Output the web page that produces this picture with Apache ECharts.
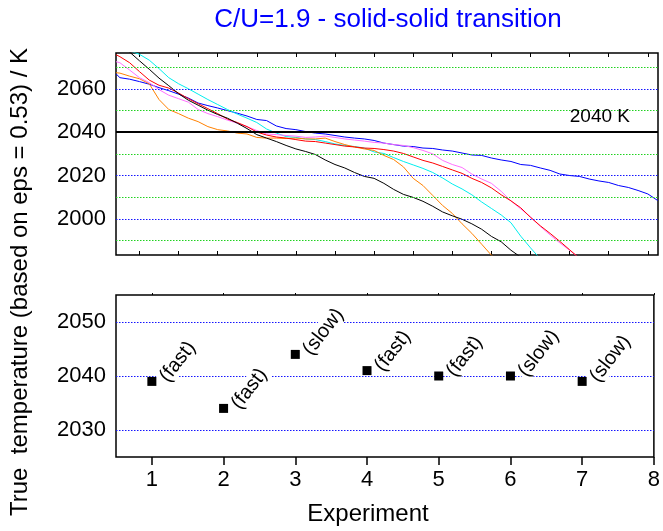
<!DOCTYPE html>
<html>
<head>
<meta charset="utf-8">
<script src="https://cdn.jsdelivr.net/npm/echarts@6/dist/echarts.min.js"></script>
<style>
  html, body { margin: 0; padding: 0; background: #fff; }
  #chart { width: 663px; height: 531px; }
</style>
</head>
<body>
<div id="chart"></div>
<script>
// Cooling traces: sample times (arbitrary units, one axis tick per unit)
const traceTime = [-0.6, -0.5, -0.25, 0, 0.25, 0.5, 0.75, 1, 1.25, 1.5, 1.75, 2, 2.25, 2.5, 2.75,
  3, 3.25, 3.5, 3.75, 4, 4.25, 4.5, 4.75, 5, 5.25, 5.5, 5.75, 6, 6.25, 6.5, 6.75, 7, 7.25, 7.5, 7.75,
  8, 8.25, 8.5, 8.75, 9, 9.25, 9.5, 9.75, 10, 10.25, 10.5, 10.75, 11, 11.25, 11.5, 11.75, 12, 12.25,
  12.5, 12.75, 13, 13.25];
const traceTicks = [0, 1, 2, 3, 4, 5, 6, 7, 8, 9, 10, 11, 12, 13];

// True temperature (K) of each trace at the sample times
const blueTrace = [2067, 2065.2, 2064.5, 2063.4, 2062.2, 2060.6, 2059.2, 2057.6, 2055.8, 2053.5, 2052.3,
  2051.2, 2050, 2048.8, 2047.5, 2045.9, 2045.4, 2042.9, 2041.7, 2041.2, 2040.3, 2039.6, 2039.2, 2038.5,
  2037.8, 2037.3, 2036.9, 2036.2, 2035, 2034.3, 2033.6, 2033.4, 2032.7, 2032.5, 2031.8, 2031.3, 2030.4,
  2029.5, 2029.3, 2028.1, 2027.2, 2026.5, 2025.1, 2024.7, 2023.5, 2022.4, 2020.7, 2020, 2019.6, 2018.4,
  2017.5, 2016.8, 2015.4, 2014.5, 2013.1, 2011.5, 2008.5];
const cyanTrace = [2081, 2079.5, 2077.6, 2076, 2073.3, 2069.4, 2065.2, 2062.4, 2060.1, 2057.6, 2055.1,
  2052.8, 2050.5, 2048.4, 2046.5, 2044.5, 2041.5, 2039.6, 2038, 2037.6, 2036.9, 2036.6, 2035.7, 2034.6,
  2033.9, 2033.4, 2032.7, 2030.9, 2030.2, 2028.3, 2026.5, 2024.9, 2023.3, 2021.4, 2018.9, 2016.1, 2013.8,
  2011.1, 2007.8, 2004.8, 2001.8, 1998.2, 1992, 1986.6, 1981.5];
const orangeTrace = [2067.5, 2067.3, 2065.9, 2064.7, 2062.4, 2055.1, 2050.5, 2048.6, 2046.5, 2044.9,
  2042.6, 2041.2, 2040.6, 2039.6, 2039.2, 2037.6, 2037.3, 2037.3, 2037.1, 2037.3, 2036.9, 2036.9, 2037.3,
  2035.7, 2034.3, 2033.2, 2032.3, 2031.6, 2029.3, 2027.4, 2024, 2018.7, 2015.4, 2010.8, 2006.2, 2002.5,
  1997.7, 1993.3, 1988.3, 1983.2, 1980];
const violetTrace = [2072.6, 2072.1, 2068.7, 2065.2, 2062.9, 2059.7, 2057.1, 2055.5, 2053.9, 2050.5,
  2048.6, 2047.2, 2045.6, 2044.2, 2042.6, 2040.8, 2039.2, 2038.9, 2038.5, 2038.2, 2037.6, 2037.8, 2038.2,
  2037.6, 2036.9, 2036.4, 2035.9, 2035.3, 2035, 2034.3, 2033.9, 2032.9, 2031.6, 2030, 2027, 2025.1, 2023.7,
  2020.7, 2018.4, 2016.4, 2012.7, 2008.3, 2004.6, 2000.9, 1996.5, 1992.6, 1988.9, 1985.5, 1981.8];
const redTrace = [2075.8, 2074.9, 2072.1, 2068, 2064.1, 2061.7, 2060.4, 2058.1, 2055.5, 2053.2, 2050.9,
  2048.6, 2046.1, 2044.5, 2042.6, 2040.1, 2038.7, 2037.8, 2037.3, 2036.6, 2035.9, 2035.7, 2035, 2034.3,
  2033.6, 2033.2, 2032.7, 2032.5, 2032, 2031.3, 2030.2, 2028.6, 2027, 2025.8, 2024.2, 2022.6, 2021, 2018.7,
  2016.8, 2014.3, 2011.1, 2008.3, 2005.1, 2000.7, 1996.8, 1993.3, 1989.6, 1985.7, 1981.8];
const blackTrace = [2082, 2081, 2077, 2073, 2069.1, 2065, 2061.5, 2057.8, 2054.8, 2052.5, 2050.2, 2048.2,
  2046.5, 2044.2, 2041.7, 2038.9, 2037.3, 2035.7, 2033.9, 2032.3, 2031.1, 2029.7, 2027.2, 2025.1, 2023.5,
  2021.4, 2019.6, 2018.7, 2016.4, 2013.6, 2011.3, 2009.9, 2008.1, 2005.8, 2003.2, 2001.4, 1999.8, 1997.7,
  1995.2, 1991.9, 1989.4, 1985.5, 1982.3];

// Upper panel axis
const topTempTicks = [2000, 2020, 2040, 2060];
const topGreenLines = [1990, 2010, 2030, 2050, 2070];
const topBlueLines = [2000, 2020, 2060];
const transitionTemp = 2040;

// Lower panel: transition temperature per experiment
const experiments = [1, 2, 3, 4, 5, 6, 7];
const experimentTicks = [1, 2, 3, 4, 5, 6, 7, 8];
const transitionTemps = [2039, 2034, 2044, 2041, 2040, 2040, 2039];
const coolingRates = ['fast', 'fast', 'slow', 'fast', 'fast', 'slow', 'slow'];
const bottomTempTicks = [2030, 2040, 2050];

const FONT = 'Liberation Sans, Arial, sans-serif';
const GREEN = '#1fd21f';
const BLUE = '#1414ff';
const plain = v => String(v);

function pairs(values) {
  return values.map((v, i) => [traceTime[i], v]);
}

function traceSeries(values, color) {
  return {
    type: 'line', xAxisIndex: 0, yAxisIndex: 0, data: pairs(values),
    showSymbol: false, symbol: 'none', clip: true, z: 3,
    lineStyle: { color: color, width: 1 }
  };
}

function gridLines(values, color) {
  return values.map(v => ({ yAxis: v, lineStyle: { color: color, type: [1.5, 1.5], width: 1 } }));
}

const chart = echarts.init(document.getElementById('chart'), null, { renderer: 'canvas' });

chart.setOption({
  animation: false,
  backgroundColor: '#fff',
  textStyle: { fontFamily: FONT },
  grid: [
    { left: 116, right: 5, top: 53, height: 202, show: true, borderColor: '#000', borderWidth: 1.5, backgroundColor: 'transparent' },
    { left: 116, right: 5, top: 295, height: 162, show: true, borderColor: '#000', borderWidth: 1.5, backgroundColor: 'transparent' }
  ],
  xAxis: [
    {
      gridIndex: 0, type: 'value', min: -0.6, max: 13.26, position: 'bottom',
      axisLine: { show: false }, splitLine: { show: false }, axisLabel: { show: false },
      axisTick: { show: true, inside: true, length: 4, customValues: traceTicks, lineStyle: { color: '#000', width: 1 } }
    },
    {
      gridIndex: 0, type: 'value', min: -0.6, max: 13.26, position: 'top',
      axisLine: { show: false }, splitLine: { show: false }, axisLabel: { show: false },
      axisTick: { show: true, inside: true, length: 4, customValues: traceTicks, lineStyle: { color: '#000', width: 1 } }
    },
    {
      gridIndex: 1, type: 'value', min: 0.5, max: 8, position: 'bottom',
      axisLine: { show: false }, splitLine: { show: false },
      axisLabel: { customValues: experimentTicks, formatter: plain, fontSize: 22, color: '#000', margin: 12, fontFamily: FONT },
      axisTick: { show: true, inside: false, length: 8, customValues: experimentTicks, lineStyle: { color: '#000', width: 1.5 } }
    },
    {
      gridIndex: 1, type: 'value', min: 0.5, max: 8, position: 'top',
      axisLine: { show: false }, splitLine: { show: false }, axisLabel: { show: false },
      axisTick: { show: true, inside: false, length: 2, customValues: experimentTicks, lineStyle: { color: '#000', width: 1 } }
    }
  ],
  yAxis: [
    {
      gridIndex: 0, type: 'value', min: 1983.3, max: 2076.6,
      axisLine: { show: false }, axisTick: { show: false }, splitLine: { show: false },
      axisLabel: { customValues: topTempTicks, formatter: plain, fontSize: 22, color: '#000', margin: 10, fontFamily: FONT }
    },
    {
      gridIndex: 1, type: 'value', min: 2025, max: 2055,
      axisLine: { show: false }, axisTick: { show: false }, splitLine: { show: false },
      axisLabel: { customValues: bottomTempTicks, formatter: plain, fontSize: 22, color: '#000', margin: 10, fontFamily: FONT }
    }
  ],
  series: [
    {
      type: 'line', xAxisIndex: 0, yAxisIndex: 0, data: [], z: 1,
      markLine: {
        silent: true, symbol: 'none', label: { show: false }, animation: false,
        data: gridLines(topGreenLines, GREEN).concat(gridLines(topBlueLines, BLUE))
      }
    },
    traceSeries(blueTrace, '#0000ff'),
    traceSeries(cyanTrace, '#00eeee'),
    traceSeries(orangeTrace, '#ff8000'),
    traceSeries(violetTrace, '#ff70ff'),
    traceSeries(redTrace, '#ff0000'),
    traceSeries(blackTrace, '#000000'),
    {
      type: 'line', xAxisIndex: 0, yAxisIndex: 0, data: [], z: 4,
      markLine: {
        silent: true, symbol: 'none', animation: false,
        data: [{ yAxis: transitionTemp, lineStyle: { color: '#000', type: 'solid', width: 2 } }],
        label: {
          show: true, position: 'insideEndTop', formatter: transitionTemp + ' K',
          fontSize: 19, color: '#000', fontFamily: FONT, distance: [28, 6]
        }
      }
    },
    {
      type: 'line', xAxisIndex: 2, yAxisIndex: 1, data: [], z: 1,
      markLine: {
        silent: true, symbol: 'none', label: { show: false }, animation: false,
        data: gridLines(bottomTempTicks, BLUE)
      }
    },
    {
      type: 'scatter', xAxisIndex: 2, yAxisIndex: 1, z: 5,
      symbol: 'rect', symbolSize: 9,
      itemStyle: { color: '#000', opacity: 1 },
      data: experiments.map((e, i) => [e, transitionTemps[i], coolingRates[i]]),
      label: {
        show: true, position: 'right', distance: 6, rotate: 52,
        align: 'left', verticalAlign: 'middle',
        formatter: p => '(' + p.data[2] + ')',
        fontSize: 20, color: '#000', fontFamily: FONT,
        backgroundColor: '#fff', padding: [0, 2]
      }
    }
  ],
  graphic: [
    {
      type: 'text', x: 388, y: 20,
      style: { text: 'C/U=1.9 - solid-solid transition', fill: '#0000ff', font: '26px ' + FONT, textAlign: 'center', textVerticalAlign: 'middle' }
    },
    {
      type: 'text', x: 20, y: 282, rotation: Math.PI / 2,
      style: { text: 'True  temperature (based on eps = 0.53) / K', fill: '#000', font: '24px ' + FONT, textAlign: 'center', textVerticalAlign: 'middle' }
    },
    {
      type: 'text', x: 368, y: 514,
      style: { text: 'Experiment', fill: '#000', font: '24px ' + FONT, textAlign: 'center', textVerticalAlign: 'middle' }
    }
  ]
});
</script>
</body>
</html>
